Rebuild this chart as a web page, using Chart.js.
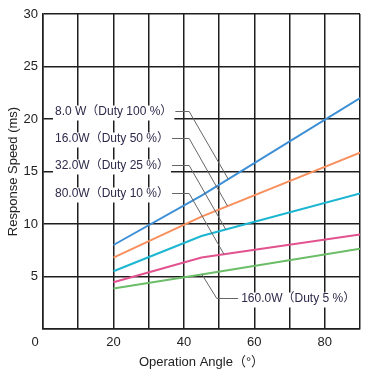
<!DOCTYPE html>
<html>
<head>
<meta charset="utf-8">
<script src="https://cdn.jsdelivr.net/npm/chart.js@4"></script>
<style>
  html, body { margin: 0; padding: 0; background: #fff; }
  #wrap { width: 368px; height: 374px; }
</style>
</head>
<body>
<div id="wrap"><canvas id="speedChart"></canvas></div>
<script>
// operation angle (deg) where each curve is sampled
const angles = [20, 45, 90];
// response speed (ms) per power setting
const speed8w = [8.0, 12.7, 22.0];
const speed16w = [6.8, 10.7, 16.8];
const speed32w = [5.5, 8.85, 12.9];
const speed80w = [4.45, 6.8, 9.0];
const speed160w = [3.85, 5.2, 7.65];
const seriesNames = ['8.0 W（Duty 100 %）', '16.0W（Duty 50 %）', '32.0W（Duty 25 %）', '80.0W（Duty 10 %）', '160.0W（Duty 5 %）'];
const xLabels = [20, 40, 60, 80];
const yLabels = [5, 10, 15, 20, 25, 30];

const allSeries = [speed8w, speed16w, speed32w, speed80w, speed160w];
const colors = ['#3d8fd6', '#f98f5c', '#1cb6d2', '#e1528f', '#6cbd68'];
const family = '"Liberation Sans", Arial, "Noto Sans CJK JP", sans-serif';

Chart.defaults.font.family = family;
Chart.defaults.color = '#222';

function valueAt(arr, a) {
  for (let i = 0; i < angles.length - 1; i++) {
    if (a >= angles[i] && a <= angles[i + 1]) {
      const t = (a - angles[i]) / (angles[i + 1] - angles[i]);
      return arr[i] + t * (arr[i + 1] - arr[i]);
    }
  }
  return arr[arr.length - 1];
}

// callout label placement, in data units
const callouts = [
  { tx: 3.4, ty: 20.75, elbow: 41.5, end: 52.6 },
  { tx: 3.4, ty: 18.2, elbow: 41.5, end: 52.4 },
  { tx: 3.4, ty: 15.65, elbow: 41.5, end: 51.9 },
  { tx: 3.4, ty: 13.0, elbow: 41.5, end: 51.4 },
  { tx: 56.25, ty: 2.95, elbow: 49.35, end: 45.1 }
];

const calloutPlugin = {
  id: 'callouts',
  afterDraw(chart) {
    const ctx = chart.ctx;
    const xs = chart.scales.x, ys = chart.scales.y;
    ctx.save();
    ctx.font = '12px ' + family;
    ctx.textBaseline = 'middle';
    callouts.forEach((c, i) => {
      const text = seriesNames[i];
      const w = ctx.measureText(text).width;
      const tx = xs.getPixelForValue(c.tx);
      const ty = Math.round(ys.getPixelForValue(c.ty)) + 0.5;
      ctx.fillStyle = '#fff';
      ctx.fillRect(tx - 2, ty - 6, w + 4, 15);
      ctx.fillStyle = '#2d2a4a';
      ctx.fillText(text, tx, ty);
      const ex = xs.getPixelForValue(c.elbow);
      const px = xs.getPixelForValue(c.end);
      const py = ys.getPixelForValue(valueAt(allSeries[i], c.end));
      ctx.strokeStyle = '#666';
      ctx.lineWidth = 1;
      ctx.beginPath();
      if (c.elbow > c.tx) {
        ctx.moveTo(tx + w + 3, ty);
      } else {
        ctx.moveTo(tx - 3, ty);
      }
      ctx.lineTo(ex, ty);
      ctx.lineTo(px, py);
      ctx.stroke();
    });
    // shared origin label
    ctx.font = '13px ' + family;
    ctx.fillStyle = '#222';
    ctx.textAlign = 'center';
    ctx.fillText('0', xs.left - 8, xs.top + 13);
    ctx.restore();
  }
};

new Chart(document.getElementById('speedChart'), {
  type: 'line',
  data: {
    datasets: allSeries.map((arr, i) => ({
      label: seriesNames[i],
      data: angles.map((a, j) => ({ x: a, y: arr[j] })),
      borderColor: colors[i],
      borderWidth: 2,
      pointRadius: 0,
      tension: 0,
      fill: false
    }))
  },
  options: {
    responsive: true,
    maintainAspectRatio: false,
    animation: false,
    layout: { padding: { top: 14, right: 8, left: 0, bottom: 0 } },
    plugins: { legend: { display: false }, tooltip: { enabled: false } },
    scales: {
      x: {
        type: 'linear',
        min: 0,
        max: 90,
        afterFit(s) { s.height = 45; },
        grid: { color: '#1e1e1e', lineWidth: 1.5, drawTicks: false },
        border: { color: '#1e1e1e', width: 1.5 },
        ticks: {
          stepSize: 10,
          padding: 6,
          maxRotation: 0,
          autoSkip: false,
          font: { size: 13 },
          callback: v => xLabels.includes(v) ? String(v) : ''
        },
        title: { display: true, text: 'Operation Angle（°）', font: { size: 13 }, padding: { top: 2, bottom: 4 } }
      },
      y: {
        min: 0,
        max: 30,
        afterFit(s) { s.width = 43; },
        grid: { color: '#1e1e1e', lineWidth: 1.5, drawTicks: false },
        border: { color: '#1e1e1e', width: 1.5 },
        ticks: {
          stepSize: 5,
          padding: 5,
          font: { size: 13 },
          callback: v => yLabels.includes(v) ? String(v) : ''
        },
        title: { display: true, text: 'Response Speed (ms)', font: { size: 13 }, padding: { top: 6, bottom: 2 } }
      }
    }
  },
  plugins: [calloutPlugin]
});
</script>
</body>
</html>
